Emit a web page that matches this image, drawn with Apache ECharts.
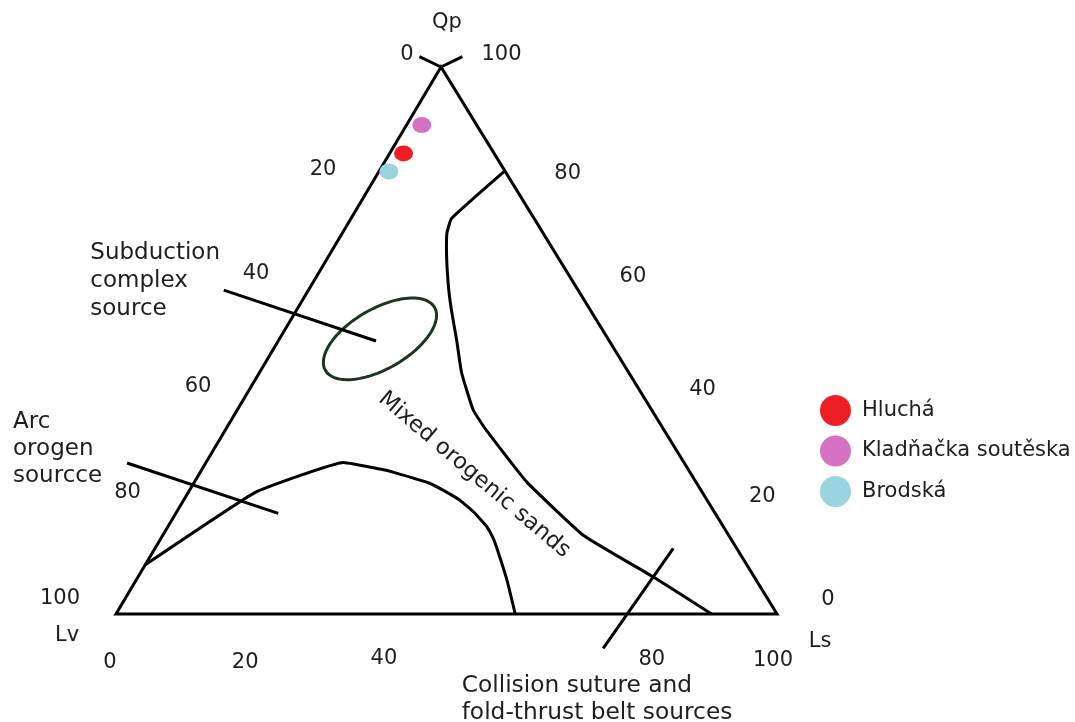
<!DOCTYPE html>
<html>
<head>
<meta charset="utf-8">
<script src="https://cdn.jsdelivr.net/npm/echarts@6/dist/echarts.min.js"></script>
<style>
  html, body { margin: 0; padding: 0; background: #ffffff; }
  #chart { width: 1075px; height: 722px; }
</style>
</head>
<body>
<div id="chart"></div>
<script>
// Compositions are written as [Qp, Lv, Ls] in percent.
const endMembers = ['Qp', 'Lv', 'Ls'];
const sideTicks = [0, 20, 40, 60, 80, 100];
const baseTicks = [0, 20, 40, 80, 100];

// sample means
const sampleNames = ['Hluchá', 'Kladňačka soutěska', 'Brodská'];
const hlucha = [[84.2, 13.7, 2.1]];
const kladnackaSouteska = [[89.4, 8.3, 2.3]];
const brodska = [[80.9, 17.6, 1.5]];

// provenance field boundaries
const recycledBoundary = [
  [81.0, 0.0, 19.0], [72.3, 12.5, 15.2], [69.7, 14.5, 15.8], [67.1, 15.9, 17.0],
  [60.5, 19.0, 20.5], [55.6, 21.0, 23.4], [50.1, 23.0, 26.9], [44.1, 25.3, 30.6],
  [37.3, 27.0, 35.7], [33.6, 26.9, 39.5], [24.2, 25.6, 50.2], [14.4, 22.0, 63.6],
  [6.8, 15.3, 77.9], [0.0, 9.9, 90.1]
];
const arcBoundary = [
  [9.0, 91.0, 0.0], [22.2, 67.7, 10.1], [27.7, 51.5, 20.8], [26.5, 46.6, 26.9],
  [25.9, 44.8, 29.3], [23.9, 40.4, 35.7], [22.5, 38.9, 38.6], [20.8, 37.4, 41.8],
  [18.6, 36.4, 45.0], [16.0, 35.8, 48.2], [13.9, 35.9, 50.2], [12.3, 36.2, 51.5],
  [6.2, 37.7, 56.1], [0.0, 39.6, 60.4]
];
const subductionCentre = [50.3, 34.5, 15.2];

// leader lines running from the field names
const subductionLeader = [[59.2, 53.6, -12.8], [49.9, 35.3, 14.8]];
const arcLeader = [[27.6, 84.3, -11.9], [18.4, 66.1, 15.5]];
const collisionLeader = [[-6.3, 29.5, 76.8], [12.0, 9.6, 78.4]];
// small tick pair above the Qp apex
const apexTicks = [[101.9, 2.3, -4.2], [100, 0, 0], [101.9, -4.2, 2.3]];

const fieldNames = [
  'Subduction\ncomplex\nsource',
  'Arc\norogen\nsourcce',
  'Mixed orogenic sands',
  'Collision suture and\nfold-thrust belt sources'
];
const mixedLabelAt = [26.0, 32.6, 41.4];

// ---- drawing ----
const APEX = 0.4917;           // horizontal position of the Qp apex along the base
const FONT = '"DejaVu Sans", Verdana, sans-serif';
const INK = '#1e1e1e';

function toXY(c) {
  const s = c[0] + c[1] + c[2];
  const qp = c[0] / s * 100, ls = c[2] / s * 100;
  return [ls + qp * APEX, qp];
}

function lineSeries(points, smooth) {
  return {
    type: 'line', data: points.map(toXY), symbol: 'none', clip: false, silent: true,
    smooth: smooth || false,
    lineStyle: { color: '#000', width: 3, join: 'round' }, z: 3
  };
}

// text items placed at a composition plus a pixel shift
const texts = [];
function addText(at, text, o) {
  texts.push(Object.assign({ at, text, dx: 0, dy: 0, align: 'center', size: 21, rot: 0, lh: 27.5 }, o));
}
// pixel shifts of the scale numbers away from their edge positions
const lvShift = { 0: [-34, -12.5], 20: [-53, -6.5], 40: [-55, -12], 60: [-48, -9], 80: [-53.5, -12], 100: [-56, -15] };
const qpShift = { 100: [60.5, -12], 80: [59.5, -3], 60: [57.5, -9], 40: [60, -5.5], 20: [52.5, -8.5], 0: [51, -14] };
const lsShift = { 0: [-6, 49], 20: [-3, 49], 40: [3.5, 45], 80: [7, 46], 100: [-4, 46.5] };

addText([100, 0, 0], endMembers[0], { dx: 6, dy: -44.5 });
addText([0, 100, 0], endMembers[1], { dx: -49, dy: 22 });
addText([0, 0, 100], endMembers[2], { dx: 43, dy: 28 });
sideTicks.forEach(v => {
  addText([100 - v, v, 0], String(v), { dx: lvShift[v][0], dy: lvShift[v][1] });
  addText([v, 0, 100 - v], String(v), { dx: qpShift[v][0], dy: qpShift[v][1] });
});
baseTicks.forEach(v => addText([0, 100 - v, v], String(v), { dx: lsShift[v][0], dy: lsShift[v][1] }));
addText(subductionLeader[0], fieldNames[0], { dx: -133.5, dy: -9, align: 'left', size: 23, lh: 28 });
addText(arcLeader[0], fieldNames[1], { dx: -114, dy: -14, align: 'left', size: 23, lh: 27 });
addText(mixedLabelAt, fieldNames[2], { dy: 3, size: 22.5, rot: -40.3 * Math.PI / 180 });
addText(collisionLeader[0], fieldNames[3], { dx: -141.5, dy: 51, align: 'left', size: 23.3, lh: 26.5 });

const sampleColors = ['#ed1f24', '#d672c4', '#9bd4e1'];
const sampleSets = [hlucha, kladnackaSouteska, brodska];

const chart = echarts.init(document.getElementById('chart'), null, { renderer: 'canvas' });
chart.setOption({
  animation: false,
  backgroundColor: '#ffffff',
  grid: { left: 116, top: 67, width: 661, height: 547 },
  xAxis: { type: 'value', min: 0, max: 100, show: false },
  yAxis: { type: 'value', min: 0, max: 100, show: false },
  legend: {
    orient: 'vertical', left: 820, top: 395, padding: 0,
    itemWidth: 31, itemHeight: 31, itemGap: 9.5, icon: 'circle',
    data: sampleNames,
    formatter: '{t|{name}}',
    textStyle: {
      rich: { t: { fontFamily: FONT, fontSize: 21, color: INK, padding: [0, 0, 0, 6] } }
    }
  },
  series: [
    {
      type: 'custom', silent: true, z: 2,
      data: [[0, 0]],
      renderItem: (params, api) => ({
        type: 'polygon',
        shape: { points: [[100, 0, 0], [0, 100, 0], [0, 0, 100]].map(c => api.coord(toXY(c))) },
        style: { fill: 'none', stroke: '#000', lineWidth: 3, lineJoin: 'miter' }
      })
    },
    lineSeries(recycledBoundary, 0.12),
    lineSeries(arcBoundary, 0.1),
    lineSeries(subductionLeader),
    lineSeries(arcLeader),
    lineSeries(collisionLeader),
    lineSeries(apexTicks),
    {
      type: 'custom', silent: true, z: 3,
      data: [toXY(subductionCentre)],
      renderItem: (params, api) => {
        const c = api.coord([api.value(0), api.value(1)]);
        const a = 63, b = 30, rot = -30 * Math.PI / 180;
        const pts = [];
        for (let i = 0; i < 120; i++) {
          const t = i / 120 * Math.PI * 2;
          const ex = a * Math.cos(t), ey = b * Math.sin(t);
          pts.push([c[0] + ex * Math.cos(rot) - ey * Math.sin(rot),
                    c[1] + ex * Math.sin(rot) + ey * Math.cos(rot)]);
        }
        return { type: 'polygon', shape: { points: pts },
                 style: { fill: 'none', stroke: '#1b3520', lineWidth: 3 } };
      }
    },
    ...sampleSets.map((set, i) => ({
      type: 'scatter', name: sampleNames[i], data: set.map(toXY),
      symbol: 'circle', symbolSize: [19, 16], z: 5,
      itemStyle: { color: sampleColors[i], opacity: 1 }
    })),
    {
      type: 'custom', silent: true, z: 6,
      data: texts.map(t => toXY(t.at)),
      renderItem: (params, api) => {
        const t = texts[params.dataIndex];
        const p = api.coord([api.value(0), api.value(1)]);
        return {
          type: 'text', x: p[0] + t.dx, y: p[1] + t.dy, rotation: t.rot,
          style: {
            text: t.text, fill: INK, font: t.size + 'px ' + FONT,
            align: t.align, verticalAlign: 'middle', lineHeight: t.lh
          }
        };
      }
    }
  ]
});
</script>
</body>
</html>
